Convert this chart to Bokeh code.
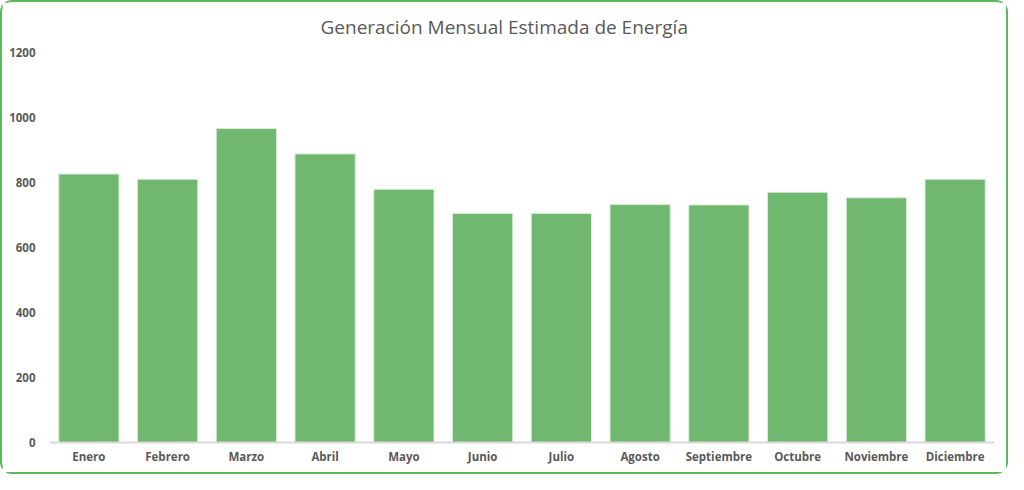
from bokeh.plotting import figure
from bokeh.models import Range1d, FixedTicker
from bokeh.embed import file_html
from bokeh.resources import INLINE

months = ["Enero", "Febrero", "Marzo", "Abril", "Mayo", "Junio", "Julio",
          "Agosto", "Septiembre", "Octubre", "Noviembre", "Diciembre"]
energy = [826, 810, 966, 888, 779, 705, 705, 732, 731, 770, 753, 810]
y_ticks = [0, 200, 400, 600, 800, 1000, 1200]

p = figure(x_range=months, y_range=Range1d(0, 1200), width=1008, height=474,
           output_backend="svg", toolbar_location=None,
           min_border_left=47, min_border_right=16, min_border_top=49, min_border_bottom=34)

p.vbar(x=months, top=energy, width=0.765, fill_color="#70b870",
       line_color="#d6ecd6", line_width=1)

p.title.text = "Generación Mensual Estimada de Energía"
p.title.align = "left"
p.title.offset = 271
p.title.vertical_align = "top"
p.title.standoff = 22
p.title.text_font = "Open Sans"
p.title.text_font_size = "19px"
p.title.text_font_style = "normal"
p.title.text_color = "#595959"

p.styles = {"border": "2px solid #5cb85c", "border-radius": "12px"}

p.xgrid.grid_line_color = None
p.ygrid.grid_line_color = None
p.outline_line_color = None

p.xaxis.axis_line_color = "#d9d9d9"
p.xaxis.axis_line_width = 2
p.xaxis.major_tick_line_color = None
p.xaxis.minor_tick_line_color = None
p.xaxis.major_label_text_font = "Open Sans"
p.xaxis.major_label_text_font_size = "11.5px"
p.xaxis.major_label_text_font_style = "bold"
p.xaxis.major_label_text_color = "#595959"
p.xaxis.major_label_standoff = 0

p.yaxis.ticker = FixedTicker(ticks=y_ticks)
p.yaxis.axis_line_color = None
p.yaxis.major_tick_line_color = None
p.yaxis.minor_tick_line_color = None
p.yaxis.major_label_text_font = "Open Sans"
p.yaxis.major_label_text_font_size = "11.5px"
p.yaxis.major_label_text_font_style = "bold"
p.yaxis.major_label_text_color = "#595959"
p.yaxis.major_label_standoff = 8

open("out.html", "w").write(file_html(p, INLINE))
